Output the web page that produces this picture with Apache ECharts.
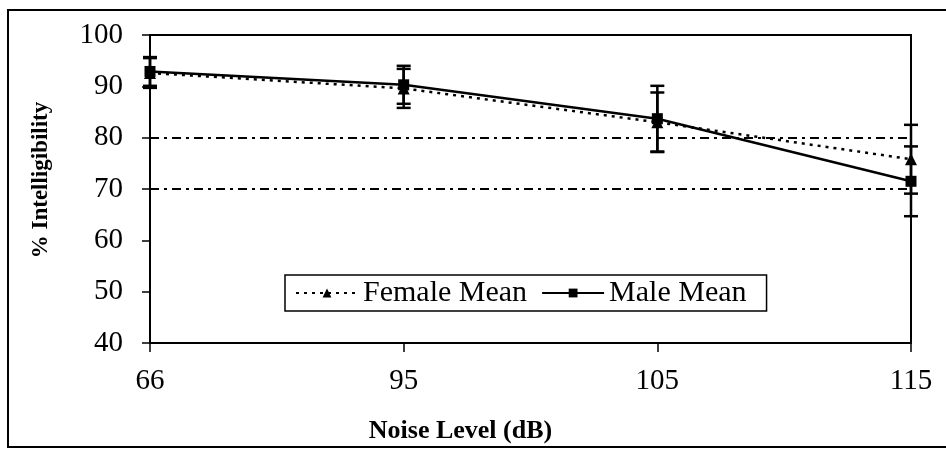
<!DOCTYPE html>
<html>
<head>
<meta charset="utf-8">
<script src="https://cdn.jsdelivr.net/npm/echarts@6/dist/echarts.min.js"></script>
<style>
html,body{margin:0;padding:0;background:#fff;}
#main{width:946px;height:449px;}
</style>
</head>
<body>
<div id="main"></div>
<script>
var noiseLevels = ['66', '95', '105', '115'];
var femaleMean = [92.6, 89.6, 83.0, 75.8];
var femaleErr = [2.9, 3.8, 5.8, 6.7];
var maleMean = [92.9, 90.3, 83.7, 71.5];
var maleErr = [2.8, 3.7, 6.4, 6.8];
var refLines = [80, 70];

var serif = '"Liberation Serif", "Times New Roman", serif';

// error bar items: [categoryIndex, low, high]
function errItems(mean, err) {
    var out = [];
    for (var i = 0; i < mean.length; i++) {
        out.push([i, mean[i] - err[i], mean[i] + err[i]]);
    }
    return out;
}

function renderErr(params, api) {
    var lo = api.coord([api.value(0), api.value(1)]);
    var hi = api.coord([api.value(0), api.value(2)]);
    var w = 7;
    var st = {stroke: '#000', lineWidth: 2.5};
    return {
        type: 'group',
        children: [
            {type: 'line', shape: {x1: lo[0], y1: lo[1], x2: hi[0], y2: hi[1]}, style: st},
            {type: 'line', shape: {x1: lo[0] - w, y1: lo[1], x2: lo[0] + w, y2: lo[1]}, style: st},
            {type: 'line', shape: {x1: hi[0] - w, y1: hi[1], x2: hi[0] + w, y2: hi[1]}, style: st}
        ]
    };
}

var myChart = echarts.init(document.getElementById('main'));
myChart.setOption({
    animation: false,
    backgroundColor: '#fff',
    grid: {
        show: true,
        left: 150,
        right: 35,
        top: 35,
        bottom: 105,
        borderColor: '#000',
        borderWidth: 2
    },
    graphic: [{
        type: 'rect',
        shape: {x: 8, y: 10, width: 960, height: 437},
        style: {fill: 'none', stroke: '#000', lineWidth: 2},
        silent: true
    }],
    legend: {
        left: 285,
        top: 275,
        padding: [3, 20, 3, 10],
        borderColor: '#000',
        borderWidth: 1.5,
        itemWidth: 62,
        itemHeight: 11,
        itemGap: 14,
        data: ['Female Mean', 'Male Mean'],
        textStyle: {fontFamily: serif, fontSize: 30, color: '#000'}
    },
    xAxis: {
        type: 'category',
        data: noiseLevels,
        boundaryGap: false,
        name: 'Noise Level (dB)',
        nameLocation: 'middle',
        nameGap: 75,
        nameTextStyle: {fontFamily: serif, fontSize: 26, fontWeight: 'bold', color: '#000', padding: [0, 140, 0, 0]},
        axisLine: {lineStyle: {color: '#000', width: 2}},
        axisTick: {show: true, length: 9, alignWithLabel: true, lineStyle: {color: '#000', width: 1.5}},
        axisLabel: {margin: 24, fontFamily: serif, fontSize: 29, color: '#000'},
        splitLine: {show: false}
    },
    yAxis: {
        type: 'value',
        min: 40,
        max: 100,
        interval: 10,
        name: '% Intelligibility',
        nameLocation: 'middle',
        nameGap: 97,
        nameTextStyle: {fontFamily: serif, fontSize: 23, fontWeight: 'bold', color: '#000', padding: [0, 0, 0, 18]},
        axisLine: {show: true, lineStyle: {color: '#000', width: 2}},
        axisTick: {show: true, length: 8, lineStyle: {color: '#000', width: 1.5}},
        axisLabel: {margin: 27, fontFamily: serif, fontSize: 29, color: '#000'},
        splitLine: {show: false}
    },
    series: [{
        name: 'Female Mean',
        type: 'line',
        data: femaleMean,
        symbol: 'triangle',
        symbolSize: 12,
        z: 3,
        itemStyle: {color: '#000'},
        lineStyle: {color: '#000', width: 2.5, type: [3, 5]},
        markLine: {
            silent: true,
            symbol: 'none',
            label: {show: false},
            lineStyle: {color: '#000', width: 2, type: [9, 5, 3, 5]},
            data: refLines.map(function (v) { return {yAxis: v}; })
        }
    }, {
        name: 'Male Mean',
        type: 'line',
        data: maleMean,
        symbol: 'rect',
        symbolSize: 11,
        z: 4,
        itemStyle: {color: '#000'},
        lineStyle: {color: '#000', width: 2.5}
    }, {
        type: 'custom',
        data: errItems(femaleMean, femaleErr),
        renderItem: renderErr,
        encode: {x: 0, y: [1, 2]},
        z: 5
    }, {
        type: 'custom',
        data: errItems(maleMean, maleErr),
        renderItem: renderErr,
        encode: {x: 0, y: [1, 2]},
        z: 5
    }]
});
</script>
</body>
</html>
